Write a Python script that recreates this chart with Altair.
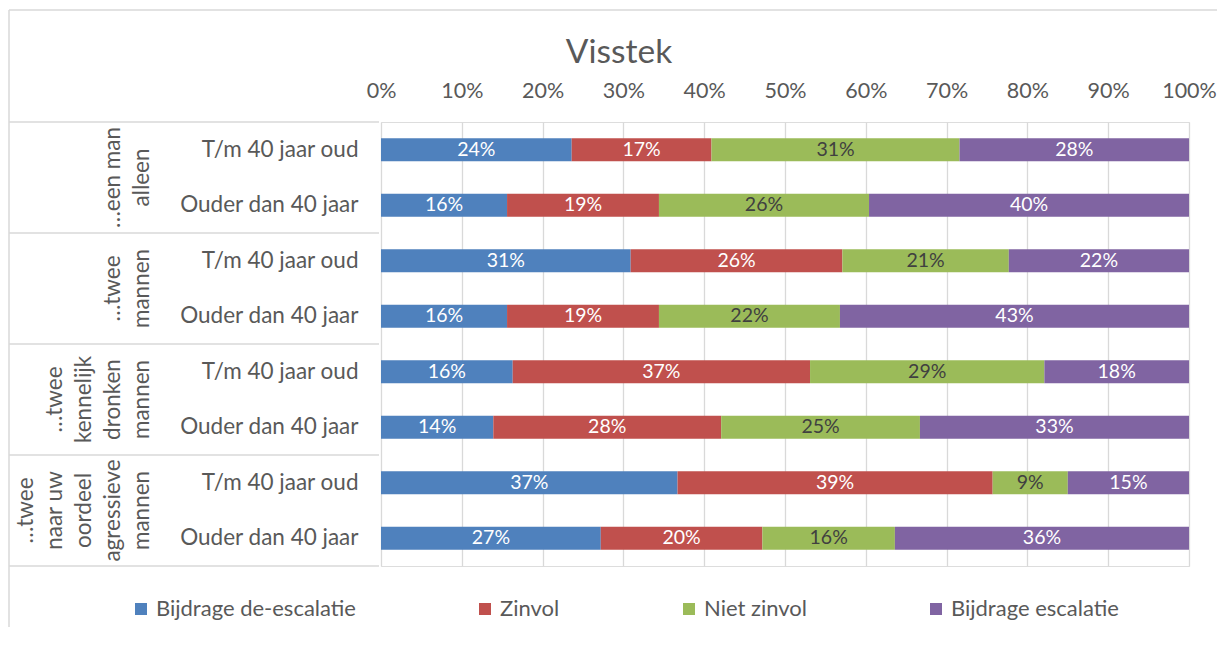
import altair as alt
import pandas as pd

FONT = "Lato"
GREY = "#595959"
LINE = "#d9d9d9"

title_text = "Visstek"
groups = [
    "…een man\nalleen",
    "…twee\nmannen",
    "…twee\nkennelijk\ndronken\nmannen",
    "…twee\nnaar uw\noordeel\nagressieve\nmannen",
]
ages = ["T/m 40 jaar oud", "Ouder dan 40 jaar"]
series = ["Bijdrage de-escalatie", "Zinvol", "Niet zinvol", "Bijdrage escalatie"]
colors = ["#4f81bd", "#c0504d", "#9bbb59", "#8064a2"]

deescalatie = [23.6, 15.6, 30.9, 15.6, 16.3, 13.9, 36.7, 27.2]
zinvol = [17.3, 18.8, 26.2, 18.8, 36.8, 28.2, 39.0, 20.0]
niet_zinvol = [30.7, 26.0, 20.6, 22.4, 29.0, 24.6, 9.3, 16.4]
escalatie = [28.4, 39.6, 22.3, 43.2, 17.9, 33.3, 15.0, 36.4]
tick_values = [0, 10, 20, 30, 40, 50, 60, 70, 80, 90, 100]

values_by_series = [deescalatie, zinvol, niet_zinvol, escalatie]

keys = [f"{g}|{a}" for g in range(len(groups)) for a in ages]

rows = []
for r, key in enumerate(keys):
    for s, name in enumerate(series):
        rows.append({"key": key, "series": name, "order": s, "value": values_by_series[s][r]})
df = pd.DataFrame(rows)

group_df = pd.DataFrame({"key": [f"{g}|{ages[0]}" for g in range(len(groups))], "group": groups})
sep_df = pd.DataFrame({"key": [f"{g}|{ages[1]}" for g in range(len(groups))]})
one = pd.DataFrame({"a": [0]})
title_df = pd.DataFrame({"t": [title_text]})

LINE_H = 29

yscale = alt.Scale(paddingInner=0, paddingOuter=0)
yaxis = alt.Axis(
    orient="left", title=None, labelExpr="split(datum.value, '|')[1]",
    labelFont=FONT, labelFontSize=22.5, labelColor=GREY, labelPadding=23,
    ticks=False, tickSize=0, domain=False, grid=False,
)
xaxis = alt.Axis(
    orient="top", title=None, values=tick_values, labelExpr="datum.value + '%'",
    labelFont=FONT, labelFontSize=21.5, labelColor=GREY, labelPadding=20,
    labelFlush=False, labelOverlap=False,
    ticks=False, tickSize=0, domain=False, grid=True, gridColor=LINE, gridWidth=1.3,
)
xscale = alt.Scale(domain=[0, 100], nice=False, zero=True)


def Y(band=0.5):
    return alt.Y("key:N", sort=keys, scale=yscale, axis=yaxis, title=None, bandPosition=band)


stacked = alt.Chart(df).transform_stack(
    stack="value", as_=["x0", "x1"], groupby=["key"], sort=[alt.SortField("order", order="ascending")]
).transform_calculate(
    mid="(datum.x0 + datum.x1) / 2",
    label="format(datum.value, '.0f') + '%'",
)

bars = stacked.mark_bar(height=alt.RelativeBandSize(0.41)).encode(
    y=Y(),
    x=alt.X("x0:Q", scale=xscale, axis=xaxis, title=None),
    x2="x1:Q",
    color=alt.Color(
        "series:N",
        scale=alt.Scale(domain=series, range=colors),
        legend=alt.Legend(
            orient="none", legendX=-251, legendY=476, direction="horizontal", title=None,
            symbolType="square", symbolSize=144, symbolStrokeWidth=0,
            labelFont=FONT, labelFontSize=22, labelColor=GREY, labelLimit=400,
            labelOffset=4, columnPadding=118,
        ),
    ),
)

labels = stacked.mark_text(font=FONT, fontSize=19.5).encode(
    y=Y(),
    x=alt.X("mid:Q", scale=xscale, axis=xaxis, title=None),
    text="label:N",
    color=alt.condition("datum.series == 'Niet zinvol'", alt.value("#404040"), alt.value("white")),
)

group_text = alt.Chart(group_df).transform_calculate(
    off=f"-(length(split(datum.group, '\\n')) - 1) * {LINE_H}"
).mark_text(
    font=FONT, fontSize=22.5, color=GREY, angle=270, align="center", baseline="bottom",
    lineBreak="\n", lineHeight=LINE_H,
).encode(
    y=Y(1),
    x=alt.value(-227),
    xOffset=alt.XOffset("off:Q", scale=None),
    text="group:N",
)

title_mark = alt.Chart(title_df).mark_text(
    font=FONT, fontSize=33.5, color=GREY, align="center", baseline="alphabetic"
).encode(x=alt.value(238), y=alt.value(-59), text="t:N")

seps = alt.Chart(sep_df).mark_rule(color=LINE, strokeWidth=1.5).encode(
    y=Y(1), x=alt.value(-372), x2=alt.value(-2)
)
top_sep = alt.Chart(one).mark_rule(color=LINE, strokeWidth=1.5).encode(
    y=alt.value(0), x=alt.value(-372), x2=alt.value(-2)
)
frame_left = alt.Chart(one).mark_rule(color=LINE, strokeWidth=1.5).encode(
    x=alt.value(-372), y=alt.value(-112), y2=alt.value(505)
)
frame_top = alt.Chart(one).mark_rule(color=LINE, strokeWidth=1.5).encode(
    y=alt.value(-112), x=alt.value(-372), x2=alt.value(836)
)

chart = alt.layer(
    frame_left, frame_top, seps, top_sep, bars, labels, group_text, title_mark
).properties(
    width=808,
    height=444,
    padding={"left": 0, "top": 1, "right": 0, "bottom": 0},
).configure_view(stroke=None).configure(background="white")

chart.save("out.html", embed_options={"renderer": "svg", "actions": False})
